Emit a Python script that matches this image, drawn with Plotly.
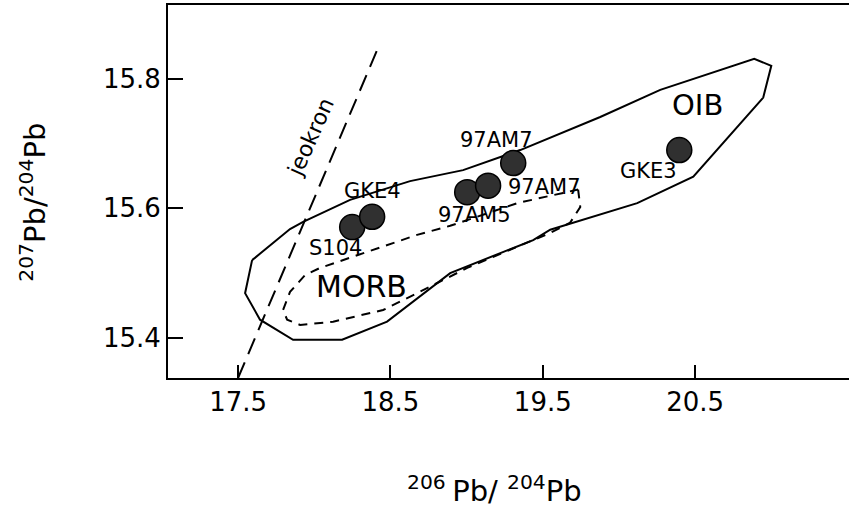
import plotly.graph_objects as go

# Samples: 206Pb/204Pb (x) and 207Pb/204Pb (y)
sample_names = ["S104", "GKE4", "97AM5", "97AM7", "97AM7", "GKE3"]
pb206 = [18.249, 18.380, 19.004, 19.141, 19.306, 20.396]
pb207 = [15.571, 15.587, 15.625, 15.635, 15.670, 15.690]

# OIB field outline
oib_x = [17.592, 17.841, 17.927, 18.235, 18.629, 18.977, 19.352, 19.877, 20.271,
         20.888, 21.000, 20.947, 20.488, 20.120, 19.549, 19.437, 18.892, 18.478,
         18.183, 17.861, 17.644, 17.546, 17.592]
oib_y = [15.520, 15.568, 15.579, 15.613, 15.642, 15.659, 15.690, 15.741, 15.783,
         15.831, 15.820, 15.771, 15.649, 15.608, 15.567, 15.551, 15.500, 15.425,
         15.397, 15.397, 15.428, 15.469, 15.520]

# MORB field outline
morb_x = [19.732, 19.746, 19.680, 19.549, 19.437, 19.004, 18.675, 18.452, 18.124,
          17.907, 17.822, 17.795, 17.841, 17.940, 18.038, 18.347, 18.675, 18.892,
          19.332, 19.732]
morb_y = [15.629, 15.602, 15.578, 15.562, 15.551, 15.508, 15.469, 15.443, 15.425,
          15.420, 15.428, 15.443, 15.471, 15.497, 15.508, 15.533, 15.559, 15.573,
          15.608, 15.629]

# Geochron reference line
geochron_x = [17.5, 18.419]
geochron_y = [15.338, 15.848]

x_ticks = [17.5, 18.5, 19.5, 20.5]
y_ticks = [15.4, 15.6, 15.8]

FONT = "DejaVu Sans, Arial, sans-serif"

fig = go.Figure()

fig.add_trace(go.Scatter(x=oib_x, y=oib_y, mode="lines",
                         line=dict(color="black", width=2), hoverinfo="skip"))
fig.add_trace(go.Scatter(x=morb_x, y=morb_y, mode="lines",
                         line=dict(color="black", width=2, dash="9px,7px"),
                         hoverinfo="skip"))
fig.add_trace(go.Scatter(x=geochron_x, y=geochron_y, mode="lines",
                         line=dict(color="black", width=2, dash="17px,9px"),
                         hoverinfo="skip"))
fig.add_trace(go.Scatter(x=pb206, y=pb207, mode="markers", text=sample_names,
                         marker=dict(size=25, color="#303030",
                                     line=dict(color="black", width=1.5))))

# sample label offsets in pixels (dx, dy) relative to each marker
label_shift = [(-17, -21), (0, 26), (7, -23), (56, -1), (-17, 23), (-31, -21)]
for name, xv, yv, (dx, dy) in zip(sample_names, pb206, pb207, label_shift):
    fig.add_annotation(x=xv, y=yv, text=name, showarrow=False, xshift=dx, yshift=dy,
                       font=dict(family=FONT, size=21, color="black"))

fig.add_annotation(x=20.514, y=15.760, text="OIB", showarrow=False,
                   font=dict(family=FONT, size=29, color="black"))
fig.add_annotation(x=18.308, y=15.479, text="MORB", showarrow=False,
                   font=dict(family=FONT, size=30, color="black"))
fig.add_annotation(x=17.973, y=15.710, text="jeokron", showarrow=False, textangle=-66,
                   font=dict(family=FONT, size=22, color="black"))

# axis titles
fig.add_annotation(xref="paper", yref="paper", x=0.48, y=0, yshift=-132,
                   xanchor="center", yanchor="bottom",
                   text="<sup>206 </sup>Pb/ <sup>204</sup>Pb", showarrow=False,
                   font=dict(family=FONT, size=29, color="black"))
fig.add_annotation(xref="paper", yref="paper", x=0, xshift=-135, y=0.47,
                   xanchor="center", yanchor="middle",
                   text="<sup>207</sup>Pb/<sup>204</sup>Pb", showarrow=False, textangle=-90,
                   font=dict(family=FONT, size=29, color="black"))

fig.update_xaxes(range=[17.04, 21.51], tickvals=x_ticks, ticktext=[f"{v:.1f}" for v in x_ticks],
                 ticks="inside", ticklen=13, tickwidth=2, tickcolor="black",
                 showline=True, linecolor="black", linewidth=2, mirror=True,
                 showgrid=False, zeroline=False,
                 tickfont=dict(family=FONT, size=26, color="black"))
fig.update_yaxes(range=[15.338, 15.914], tickvals=y_ticks, ticktext=[f"{v:.1f}" for v in y_ticks],
                 ticks="inside", ticklen=15, tickwidth=2, tickcolor="black",
                 showline=True, linecolor="black", linewidth=2,
                 showgrid=False, zeroline=False,
                 tickfont=dict(family=FONT, size=26, color="black"))

fig.update_layout(width=849, height=508, showlegend=False,
                  margin=dict(l=168, r=0, t=5, b=130),
                  plot_bgcolor="white", paper_bgcolor="white")

fig.write_html("out.html")
